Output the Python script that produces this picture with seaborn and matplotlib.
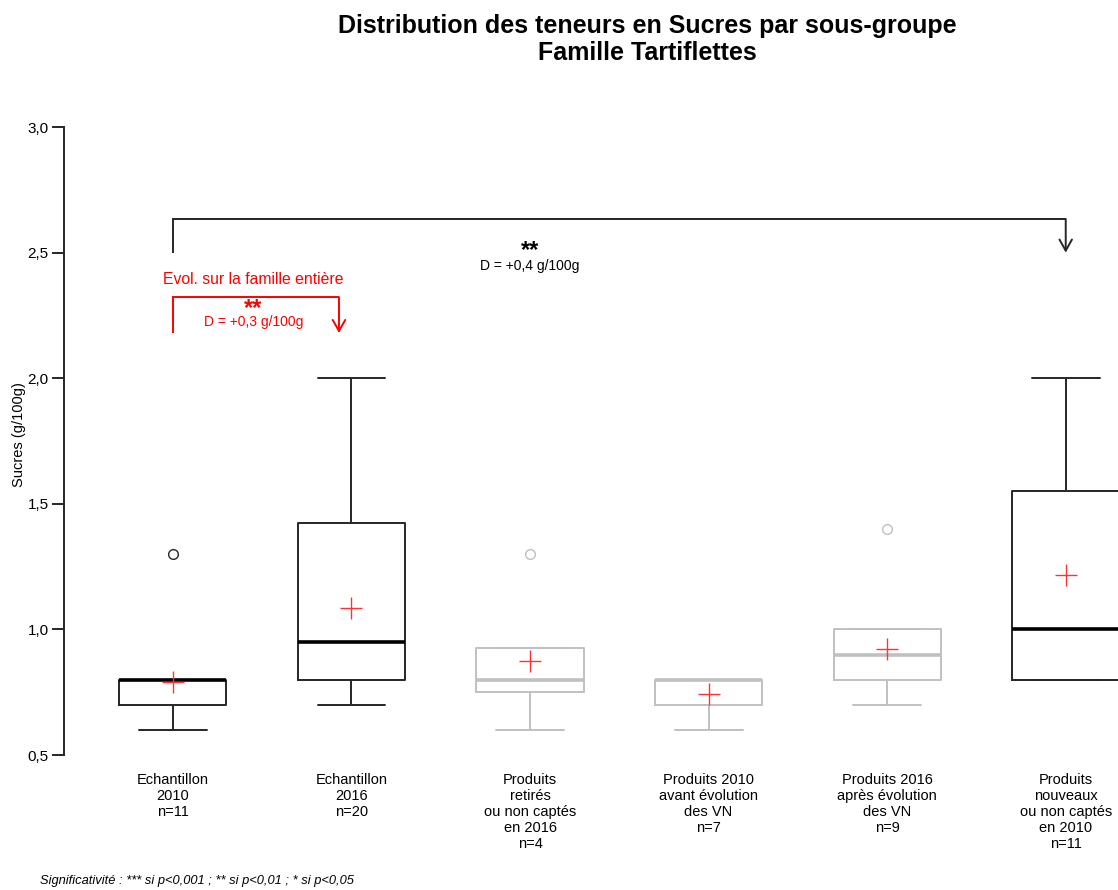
import pandas as pd
import matplotlib
matplotlib.use('Agg')
import matplotlib.pyplot as plt
import seaborn as sns

# ── Data ──────────────────────────────────────────────
groups = ['Echantillon\n2010\nn=11',
          'Echantillon\n2016\nn=20',
          'Produits\nretirés\nou non captés\nen 2016\nn=4',
          'Produits 2010\navant évolution\ndes VN\nn=7',
          'Produits 2016\naprès évolution\ndes VN\nn=9',
          'Produits\nnouveaux\nou non captés\nen 2010\nn=11']

ech_2010 = [0.6, 0.7, 0.7, 0.7, 0.7, 0.8, 0.8, 0.8, 0.8, 0.8, 1.3]
ech_2016 = [0.7, 0.8, 0.8, 0.8, 0.8, 0.8, 0.8, 0.9, 0.9, 0.9,
            1.0, 1.0, 1.0, 1.1, 1.4, 1.5, 1.5, 1.5, 1.5, 2.0]
retires = [0.6, 0.8, 0.8, 1.3]
avant_vn = [0.6, 0.7, 0.7, 0.8, 0.8, 0.8, 0.8]
apres_vn = [0.7, 0.8, 0.8, 0.8, 0.9, 0.9, 1.0, 1.0, 1.4]
nouveaux = [0.8, 0.8, 0.8, 0.8, 0.9, 1.0, 1.4, 1.5, 1.6, 1.8, 2.0]

yticks = [0.5, 1.0, 1.5, 2.0, 2.5, 3.0]
ytick_labels = ['0,5', '1,0', '1,5', '2,0', '2,5', '3,0']

# comparisons: (from group, to group, low y, high y)
comp_total = (0, 5, 2.5, 2.634)
comp_family = (0, 0.93, 2.18, 2.323)

values = [ech_2010, ech_2016, retires, avant_vn, apres_vn, nouveaux]
df = pd.DataFrame({'groupe': [g for g, v in zip(groups, values) for _ in v],
                   'sucres': [x for v in values for x in v]})

dark = '#262626'
light = '#c0c0c0'
palette = {groups[0]: dark, groups[1]: dark, groups[2]: light,
           groups[3]: light, groups[4]: light, groups[5]: dark}

sns.set_style('ticks')
plt.rcParams['font.family'] = ['Liberation Sans', 'DejaVu Sans']
plt.rcParams['text.color'] = 'black'
plt.rcParams['axes.labelcolor'] = 'black'
plt.rcParams['xtick.color'] = 'black'
plt.rcParams['ytick.color'] = 'black'

fig = plt.figure(figsize=(11.18, 8.9), dpi=100)
ax = fig.add_axes([64 / 1118, 0.1375, 1166 / 1118, 0.748])

sns.boxplot(data=df, x='groupe', y='sucres', hue='groupe', palette=palette,
            order=groups, hue_order=groups, fill=False, width=0.6,
            linewidth=1.4, legend=False, ax=ax,
            medianprops={'linewidth': 2.6},
            flierprops={'marker': 'o', 'markersize': 7, 'markeredgewidth': 1},
            showmeans=True,
            meanprops={'marker': '+', 'markeredgecolor': '#ff3333',
                       'markersize': 16, 'markeredgewidth': 1})

# R-style touches: wider caps, black medians, grey outliers
for line in ax.lines:
    xd = list(line.get_xdata())
    yd = list(line.get_ydata())
    col = matplotlib.colors.to_hex(line.get_color())
    if line.get_marker() == 'o':
        if col == dark:
            line.set_markeredgecolor('#5a5a5a')
        continue
    if len(xd) == 2 and yd[0] == yd[1]:
        w = abs(xd[1] - xd[0])
        c = (xd[0] + xd[1]) / 2
        if 0.25 < w < 0.35:
            line.set_xdata([c - 0.19, c + 0.19])
        elif w > 0.5 and line.get_linewidth() > 2 and col == dark:
            line.set_color('black')

ax.set_xlim(-0.61, 5.92)
ax.set_ylim(0.45, 3.1)
ax.set_yticks(yticks)
ax.set_yticklabels(ytick_labels, fontsize=11)
ax.set_xticks(range(len(groups)))
ax.set_xticklabels(groups, fontsize=10.5, linespacing=1.17)
ax.tick_params(axis='x', length=0, pad=4)
ax.tick_params(axis='y', length=9, width=1.4, color=dark, pad=2)
ax.set_xlabel('')
ax.set_ylabel('Sucres (g/100g)', fontsize=10.5)
ax.yaxis.set_label_coords(-0.033, 0.5)
for s in ['top', 'right', 'bottom']:
    ax.spines[s].set_visible(False)
ax.spines['left'].set_bounds(0.5, 3.0)
ax.spines['left'].set_linewidth(1.4)
ax.spines['left'].set_color(dark)


def bracket(comp, color):
    x0, x1, ylo, yhi = comp
    ax.plot([x0, x0, x1], [ylo, yhi, yhi], color=color, lw=1.4,
            solid_capstyle='butt', solid_joinstyle='miter')
    ax.annotate('', xy=(x1, ylo), xytext=(x1, yhi),
                arrowprops=dict(arrowstyle='->,head_length=0.8,head_width=0.45',
                                color=color, lw=1.4, shrinkA=0, shrinkB=0))


bracket(comp_total, dark)
ax.text(2, 2.482, '**', ha='center', va='baseline', fontsize=17,
        fontweight='bold', color='black')
ax.text(2, 2.447, 'D = +0,4 g/100g', ha='center', va='center', fontsize=10)

bracket(comp_family, 'red')
ax.text(0.45, 2.395, 'Evol. sur la famille entière', ha='center',
        va='center', fontsize=11.3, color='red')
ax.text(0.45, 2.25, '**', ha='center', va='baseline', fontsize=17,
        fontweight='bold', color='red')
ax.text(0.45, 2.224, 'D = +0,3 g/100g', ha='center', va='center',
        fontsize=10, color='red')

fig.text(647 / 1118, 1 - 33 / 890, 'Distribution des teneurs en Sucres par sous-groupe',
         ha='center', va='baseline', fontsize=18, fontweight='bold')
fig.text(647 / 1118, 1 - 60 / 890, 'Famille Tartiflettes',
         ha='center', va='baseline', fontsize=18, fontweight='bold')
fig.text(40 / 1118, 1 - 884 / 890,
         'Significativité : *** si p<0,001 ; ** si p<0,01 ; * si p<0,05',
         ha='left', va='baseline', fontsize=9.3, fontstyle='italic')

fig.savefig('out.png', dpi=100)
